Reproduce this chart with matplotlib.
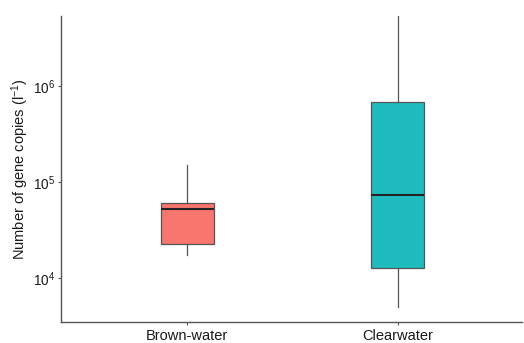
import matplotlib
matplotlib.use("Agg")
import matplotlib.pyplot as plt
from matplotlib.ticker import LogLocator, NullLocator

plt.rcParams['font.family'] = ['Liberation Sans', 'DejaVu Sans']
plt.rcParams['mathtext.fontset'] = 'custom'
plt.rcParams['mathtext.rm'] = 'Liberation Sans'
plt.rcParams['mathtext.it'] = 'Liberation Sans:italic'

categories = ["Brown-water", "Clearwater"]
whisker_low = [1.75e4, 5.0e3]
q1 = [2.29e4, 1.27e4]
median = [5.25e4, 7.35e4]
q3 = [6.1e4, 6.86e5]
whisker_high = [1.51e5, 5.4e6]
colors = ["#F8766D", "#1FBCBF"]

fig = plt.figure(figsize=(5.24, 3.43), dpi=100)
ax = fig.add_axes([61/524, 21/343, (522-61)/524, (322-16)/343])

stats = []
for i, c in enumerate(categories):
    stats.append(dict(label=c, whislo=whisker_low[i], q1=q1[i], med=median[i],
                      q3=q3[i], whishi=whisker_high[i], fliers=[]))

bp = ax.bxp(stats, positions=[1, 2], widths=0.25, patch_artist=True,
            showcaps=False, showfliers=False,
            boxprops=dict(edgecolor="#555555", linewidth=0.9),
            medianprops=dict(color="#222222", linewidth=1.5),
            whiskerprops=dict(color="#555555", linewidth=0.9))
for patch, col in zip(bp['boxes'], colors):
    patch.set_facecolor(col)

ax.set_yscale('log')
ax.set_ylim(3.52e3, 5.33e6)
ax.set_xlim(0.4, 2.59)
ax.yaxis.set_major_locator(LogLocator(base=10, subs=(1.0,)))
ax.yaxis.set_minor_locator(NullLocator())
ax.set_xticks([1, 2])
ax.set_xticklabels(categories)

for s in ['top', 'right']:
    ax.spines[s].set_visible(False)
for s in ['left', 'bottom']:
    ax.spines[s].set_color('#555555')
    ax.spines[s].set_linewidth(1.0)

ax.tick_params(axis='both', which='major', length=2.5, width=0.8, color='#555555',
               labelcolor='#1a1a1a', pad=2.5)
ax.tick_params(axis='x', labelsize=10.5)
ax.tick_params(axis='y', labelsize=9.8, pad=2)
ax.set_ylabel(r'Number of gene copies (l$^{-1}$)', fontsize=10.5, color='#1a1a1a')
ax.yaxis.set_label_coords((20 - 61) / 461, 0.5)
ax.yaxis.label.set_va('center')

fig.savefig('out.png', dpi=100)
